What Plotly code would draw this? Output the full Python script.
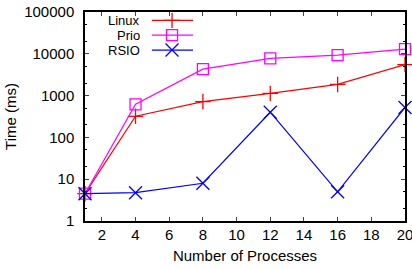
import plotly.graph_objects as go

processes = [1, 4, 8, 12, 16, 20]
linux_ms = [4.5, 320, 720, 1130, 1850, 5500]
prio_ms = [4.5, 620, 4300, 7800, 9300, 13000]
rsio_ms = [4.5, 4.75, 8.0, 400, 5.0, 520]
series_names = ["Linux", "Prio", "RSIO"]
x_ticks = [2, 4, 6, 8, 10, 12, 14, 16, 18, 20]
y_ticks = [1, 10, 100, 1000, 10000, 100000]

colors = ["#ff0000", "#ff00ff", "#0000ff"]
symbols = ["cross-thin-open", "square-open", "x-thin-open"]
sizes = [11, 11, 13]
FONT = "Liberation Sans, Arial, sans-serif"

fig = go.Figure()
for name, vals, c, s, sz in zip(series_names, [linux_ms, prio_ms, rsio_ms], colors, symbols, sizes):
    fig.add_trace(go.Scatter(
        x=processes, y=vals, mode="lines+markers", name=name,
        line=dict(color=c, width=1.2),
        marker=dict(symbol=s, size=sz, color=c, line=dict(color=c, width=1.3)),
        showlegend=False, cliponaxis=False,
    ))

# key (gnuplot style: label right-aligned, sample to the right)
key_y = [0.960, 0.889, 0.818]
for name, c, s, sz, ky in zip(series_names, colors, symbols, sizes, key_y):
    fig.add_trace(go.Scatter(
        x=[0.209, 0.272, 0.3375], y=[ky, ky, ky], xaxis="x2", yaxis="y2",
        mode="lines", line=dict(color=c, width=1.2), showlegend=False, hoverinfo="skip",
    ))
    fig.add_trace(go.Scatter(
        x=[0.272], y=[ky], xaxis="x2", yaxis="y2", mode="markers",
        marker=dict(symbol=s, size=sz, color=c, line=dict(color=c, width=1.3)),
        showlegend=False, hoverinfo="skip",
    ))
    fig.add_annotation(x=0.175, y=ky, xref="paper", yref="paper", text=name,
                       showarrow=False, xanchor="right", yanchor="middle",
                       borderpad=0,
                       font=dict(family=FONT, size=13, color="black"))

fig.update_layout(
    width=412, height=269,
    margin=dict(l=85, r=7, t=12, b=48, autoexpand=False),
    paper_bgcolor="white", plot_bgcolor="white",
    font=dict(family=FONT, size=15, color="black"),
    xaxis=dict(
        range=[1, 20], tickvals=x_ticks, ticks="inside", ticklen=4,
        showline=True, linecolor="black", linewidth=1.5, mirror="ticks",
        showgrid=False, zeroline=False, automargin=False,
        title=dict(text="Number of Processes", font=dict(size=15), standoff=9),
        tickfont=dict(size=15), ticklabeloverflow="allow", ticklabelstandoff=-1,
    ),
    yaxis=dict(
        type="log", range=[0, 5], tickvals=y_ticks, ticktext=[str(v) for v in y_ticks],
        ticks="inside", ticklen=4,
        minor=dict(ticks="inside", ticklen=2, tickcolor="black", showgrid=False),
        showline=True, linecolor="black", linewidth=1.5, mirror="ticks",
        showgrid=False, zeroline=False, automargin=False,
        title=dict(text="Time (ms)", font=dict(size=15), standoff=4),
        tickfont=dict(size=15), ticklabelstandoff=6, ticklabeloverflow="allow",
    ),
    xaxis2=dict(overlaying="x", range=[0, 1], visible=False, fixedrange=True),
    yaxis2=dict(overlaying="y", range=[0, 1], visible=False, fixedrange=True),
)

fig.write_html("out.html", config={"displayModeBar": False},
               post_script="document.body.style.margin='0';document.body.style.overflow='hidden';")
